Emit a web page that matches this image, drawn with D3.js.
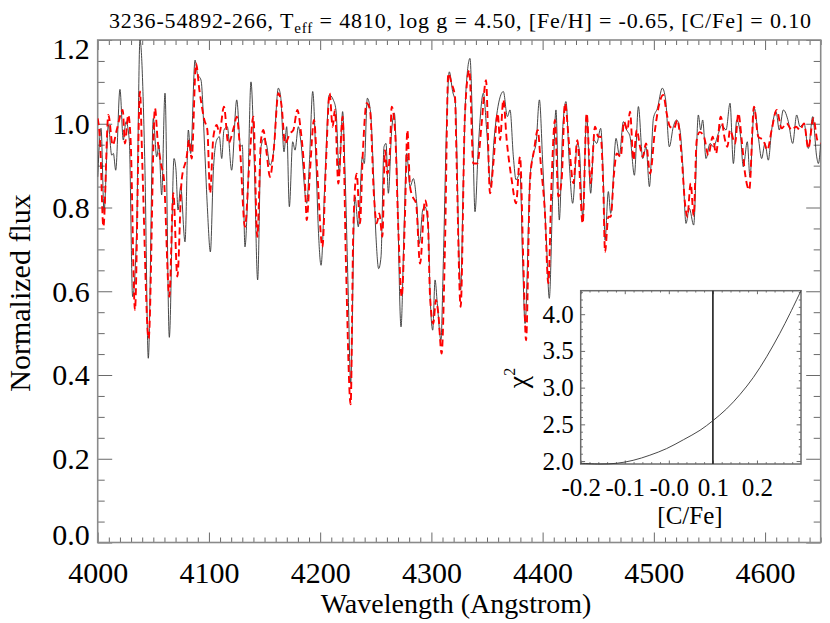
<!DOCTYPE html>
<html><head><meta charset="utf-8"><script src="https://cdn.jsdelivr.net/npm/d3@7"></script></head>
<body style="margin:0">
<svg id="chart" width="830" height="623"></svg>
<script>
// observed spectrum (black)
const obsWave = [4000, 4003.0, 4005.7, 4009.6, 4012.6, 4014.1, 4016.2, 4020.0, 4023.0, 4025.4, 4028.4, 4031.4, 4035.0, 4038.0, 4042.5, 4045.5, 4050.0, 4053.0, 4055.1, 4057.5, 4060.5, 4064.4, 4068.6, 4070.4, 4072.2, 4074.6, 4078.5, 4081.5, 4083.6, 4087.5, 4089.6, 4092.9, 4096.5, 4098.6, 4101.3, 4104.0, 4107.0, 4109.4, 4111.5, 4113.5, 4116.5, 4120.4, 4125.0, 4128.5, 4130.0, 4132.4, 4134.8, 4137.8, 4140.8, 4143.8, 4146.8, 4149.8, 4151.9, 4154.9, 4157.9, 4162.4, 4164.5, 4167.5, 4169.9, 4172.3, 4175.3, 4177.4, 4180.4, 4182.5, 4187.9, 4190.3, 4193.3, 4196.3, 4198.4, 4200.8, 4204.3, 4208.2, 4211.8, 4214.2, 4217.2, 4220.2, 4222.3, 4225.3, 4227.4, 4231.3, 4234.3, 4237.9, 4239.7, 4242.4, 4245.4, 4247.8, 4250.2, 4252.6, 4254.7, 4257.4, 4259.2, 4261.3, 4264.3, 4266.7, 4268.8, 4272.7, 4275.4, 4277.8, 4280.8, 4283.8, 4286.8, 4289.2, 4292.2, 4294.3, 4297.3, 4298.8, 4301.2, 4303.3, 4305.3, 4308.6, 4310.7, 4313.7, 4316.1, 4319.1, 4321.5, 4325.1, 4326.3, 4328.7, 4331.1, 4334.7, 4337.1, 4339.2, 4342.2, 4346.7, 4349.7, 4353.3, 4356.3, 4361.1, 4364.7, 4368.3, 4370.7, 4373.7, 4376.1, 4379.7, 4382.1, 4384.2, 4388.7, 4391.7, 4394.1, 4397.1, 4400.1, 4403.6, 4406.0, 4409.0, 4412.0, 4415.0, 4418.0, 4421.0, 4424.0, 4427.0, 4431.2, 4433.0, 4436.0, 4439.6, 4443.2, 4446.2, 4448.6, 4452.2, 4454.6, 4456.1, 4459.1, 4461.2, 4466.0, 4469.0, 4472.6, 4475.6, 4478.6, 4482.5, 4486.1, 4490.0, 4493.0, 4496.0, 4499.6, 4503.2, 4507.6, 4510.6, 4513.9, 4517.5, 4520.5, 4523.5, 4525.9, 4528.9, 4531.9, 4535.8, 4540.0, 4542.1, 4543.9, 4546.9, 4550.5, 4553.5, 4558.0, 4561.0, 4564.9, 4568.5, 4571.5, 4574.5, 4578.0, 4580.4, 4584.0, 4586.4, 4590.3, 4593.9, 4596.9, 4599.9, 4602.9, 4605.9, 4609.8, 4612.8, 4616.4, 4620.9, 4624.8, 4628.4, 4631.4, 4635.0, 4638.9, 4642.8, 4646.4, 4647.9, 4650.0];
const obsFlux = [0.873, 0.989, 0.790, 0.997, 0.925, 0.929, 0.889, 1.082, 0.961, 1.005, 0.961, 0.587, 0.746, 1.20, 0.889, 0.44, 1.013, 0.921, 0.949, 0.830, 1.073, 0.49, 0.917, 0.889, 0.794, 0.850, 0.718, 0.985, 0.929, 1.152, 1.120, 1.104, 0.921, 0.80, 0.694, 0.889, 0.961, 0.969, 0.917, 0.985, 0.993, 0.889, 1.057, 0.945, 0.949, 0.706, 0.826, 1.100, 0.905, 0.627, 0.945, 0.965, 0.949, 0.901, 0.929, 1.085, 1.065, 0.933, 0.993, 0.802, 0.957, 0.937, 0.993, 0.961, 0.810, 0.905, 1.077, 0.905, 0.746, 0.662, 0.866, 1.069, 1.057, 1.033, 0.881, 1.029, 0.889, 0.587, 0.38, 0.826, 0.754, 0.921, 0.905, 1.061, 1.025, 0.889, 0.730, 0.654, 0.682, 0.945, 0.953, 0.834, 0.985, 1.025, 0.905, 0.515, 0.746, 0.929, 0.850, 0.869, 0.810, 0.714, 0.794, 0.802, 0.746, 0.595, 0.507, 0.627, 0.571, 0.483, 0.666, 1.001, 1.124, 1.077, 1.05, 0.666, 0.603, 0.866, 1.081, 1.156, 0.985, 0.790, 0.945, 1.073, 0.985, 0.850, 0.961, 1.057, 1.077, 1.017, 1.033, 0.921, 0.866, 0.881, 0.666, 0.523, 0.873, 0.929, 0.953, 1.057, 0.905, 0.706, 0.583, 0.826, 1.033, 0.770, 0.985, 1.053, 0.905, 0.810, 0.953, 0.937, 0.778, 1.021, 0.834, 0.961, 0.953, 0.989, 0.866, 0.722, 0.838, 0.786, 0.965, 0.925, 1.005, 0.985, 0.969, 0.877, 1.041, 0.917, 0.945, 0.850, 1.013, 1.037, 1.085, 1.057, 0.945, 0.993, 1.009, 0.985, 0.905, 0.762, 0.798, 0.758, 1.021, 0.985, 1.009, 0.917, 0.953, 0.945, 0.977, 0.997, 0.985, 1.049, 0.905, 1.009, 0.969, 0.897, 0.957, 0.873, 1.037, 0.969, 0.917, 0.953, 0.913, 0.985, 1.029, 0.985, 1.033, 1.005, 0.953, 1.021, 0.993, 1.001, 0.941, 1.017, 0.921, 0.905, 0.953];

// best-fit synthetic spectrum (red dashed)
const modelWave = [4000, 4002.1, 4005.1, 4009.6, 4013.5, 4017.1, 4022.5, 4024.5, 4027.5, 4029.6, 4033.5, 4038.0, 4040.1, 4045.8, 4051.5, 4053.9, 4056.9, 4059.6, 4064.4, 4068.0, 4071.6, 4075.5, 4080.0, 4082.1, 4084.5, 4088.4, 4091.4, 4095.9, 4098.6, 4101.0, 4104.0, 4107.0, 4109.4, 4113.5, 4117.4, 4122.5, 4125.0, 4128.0, 4132.4, 4136.3, 4139.9, 4143.5, 4146.8, 4148.9, 4151.9, 4154.9, 4158.5, 4162.4, 4165.4, 4168.4, 4172.9, 4175.9, 4179.5, 4182.5, 4186.4, 4187.9, 4190.9, 4194.5, 4197.5, 4202.0, 4205.2, 4208.5, 4211.2, 4213.3, 4216.3, 4220.2, 4223.2, 4227.4, 4229.8, 4232.8, 4235.8, 4238.2, 4241.8, 4244.8, 4248.4, 4250.8, 4253.2, 4255.9, 4258.3, 4260.4, 4262.8, 4264.3, 4267.3, 4270.3, 4273.3, 4276.3, 4278.4, 4280.8, 4283.2, 4286.2, 4289.8, 4294.3, 4296.7, 4298.8, 4301.7, 4304.1, 4306.2, 4309.2, 4312.2, 4315.2, 4318.2, 4321.2, 4322.7, 4326.3, 4330.2, 4334.1, 4337.7, 4341.3, 4345.2, 4349.1, 4352.7, 4355.7, 4359.6, 4361.7, 4364.7, 4367.7, 4372.2, 4376.1, 4379.7, 4382.7, 4385.1, 4388.7, 4392.3, 4395.6, 4398.3, 4402.1, 4405.1, 4408.1, 4411.1, 4414.1, 4417.1, 4420.1, 4424.0, 4427.6, 4431.2, 4436.0, 4439.6, 4443.2, 4447.1, 4450.1, 4452.2, 4454.6, 4456.1, 4459.1, 4461.2, 4464.2, 4466.6, 4470.2, 4473.2, 4476.2, 4478.6, 4481.6, 4484.6, 4487.6, 4490.0, 4493.0, 4496.6, 4501.0, 4505.0, 4508.5, 4511.5, 4514.5, 4518.1, 4521.1, 4525.0, 4528.0, 4530.1, 4533.1, 4535.8, 4538.5, 4541.2, 4545.1, 4549.0, 4552.9, 4555.9, 4560.1, 4564.0, 4566.1, 4568.5, 4573.0, 4576.0, 4579.0, 4582.0, 4585.8, 4590.0, 4593.9, 4598.4, 4602.0, 4605.9, 4610.4, 4614.9, 4619.4, 4623.9, 4627.8, 4631.4, 4635.0, 4638.9, 4643.4, 4647.0, 4650.0];
const modelFlux = [1.013, 0.961, 0.754, 1.021, 0.949, 0.985, 1.033, 0.953, 1.021, 0.961, 0.555, 1.077, 0.905, 0.487, 1.037, 0.961, 0.905, 0.866, 0.587, 0.834, 0.635, 0.866, 0.921, 0.961, 0.917, 1.144, 1.081, 1.009, 0.985, 0.834, 0.969, 0.997, 0.977, 1.041, 0.953, 0.993, 1.017, 0.937, 0.754, 0.905, 1.017, 0.730, 0.961, 0.985, 0.929, 0.873, 0.945, 1.073, 1.041, 0.953, 0.977, 0.985, 1.033, 0.985, 0.858, 0.770, 0.889, 1.009, 0.881, 0.706, 0.905, 1.073, 0.993, 1.033, 0.857, 1.017, 0.666, 0.33, 0.746, 0.881, 0.762, 0.921, 1.049, 1.033, 0.826, 0.762, 0.786, 0.730, 0.937, 0.881, 0.937, 1.041, 0.985, 0.746, 0.587, 0.786, 0.985, 0.850, 0.826, 0.810, 0.666, 0.818, 0.778, 0.587, 0.523, 0.579, 0.547, 0.451, 0.706, 1.120, 1.096, 1.065, 0.905, 0.563, 1.025, 1.128, 0.905, 0.905, 1.001, 1.104, 0.834, 0.905, 1.025, 0.961, 1.057, 0.961, 0.866, 0.810, 0.921, 0.666, 0.483, 0.866, 0.937, 0.985, 0.905, 0.786, 0.619, 0.866, 1.009, 0.826, 0.866, 1.049, 0.945, 0.858, 0.961, 0.762, 1.025, 0.858, 0.993, 0.969, 0.969, 0.842, 0.694, 0.778, 0.778, 0.881, 0.929, 0.921, 1.005, 0.985, 1.029, 0.913, 0.985, 0.945, 0.921, 0.953, 0.881, 0.985, 1.049, 1.069, 1.025, 0.993, 0.989, 1.009, 0.921, 0.810, 0.778, 0.858, 0.780, 0.96, 0.98, 0.969, 0.925, 0.969, 0.929, 1.017, 0.961, 0.945, 0.985, 0.953, 1.025, 0.961, 0.881, 0.842, 1.041, 0.969, 0.961, 0.937, 0.985, 1.033, 0.989, 1.001, 0.985, 0.993, 0.985, 1.001, 0.941, 1.013, 0.961, 0.953];

// chi^2 vs [C/Fe] (inset)
const chiCFe = [-0.2, -0.156, -0.118, -0.081, -0.043, -0.005, 0.033, 0.071, 0.1, 0.131, 0.162, 0.192, 0.222, 0.252, 0.275, 0.3];
const chiValues = [1.97, 1.96, 1.97, 2.01, 2.08, 2.17, 2.29, 2.42, 2.55, 2.71, 2.91, 3.14, 3.42, 3.74, 4.01, 4.32];
const bestCFe = 0.10;

const xMajor = [4000, 4100, 4200, 4300, 4400, 4500, 4600];
const yMajor = [0.0, 0.2, 0.4, 0.6, 0.8, 1.0, 1.2];
const insetXMajor = [-0.2, -0.1, 0.0, 0.1, 0.2];
const insetXLabels = ['-0.2', '-0.1', '-0.0', '0.1', '0.2'];
const insetYMajor = [2.0, 2.5, 3.0, 3.5, 4.0];

const titleParts = ['3236-54892-266, T', 'eff', ' = 4810, log g = 4.50, [Fe/H] = -0.65, [C/Fe] = 0.10'];

const serifFont = 'Liberation Serif';
const frameColor = '#8a8a8a';
const tickColor = '#6a6a6a';
const obsColor = '#333333';
const modelColor = '#ff0000';

const svg = d3.select('#chart');

const x = d3.scaleLinear().domain([4000, 4650]).range([97.7, 820.7]);
const y = d3.scaleLinear().domain([0, 1.2]).range([542.5, 40]);

const xMinor = d3.range(4000, 4651, 10).filter(v => v % 100 !== 0);
const yMinor = d3.range(0, 1.21, 0.05).filter((v, i) => i % 4 !== 0);

function styleAxis(g) {
  g.attr('font-family', null);
  g.select('.domain').remove();
  g.selectAll('line').attr('stroke', tickColor).attr('stroke-width', 1);
  g.selectAll('text').attr('fill', '#000')
    .attr('font-family', serifFont)
    .style('font-family', `'${serifFont}'`);
}

function addText(parent) {
  return parent.append('text')
    .attr('font-family', serifFont)
    .style('font-family', `'${serifFont}'`)
    .attr('fill', '#000');
}

// main frame ticks
const xl = x.range(), yl = y.range();
const bottomG = svg.append('g').attr('transform', `translate(0,${yl[0]})`);
bottomG.append('g').call(d3.axisBottom(x).tickValues(xMajor).tickSize(-10).tickPadding(19).tickFormat(d3.format('d')))
  .call(styleAxis)
  .selectAll('text').attr('font-size', 30);
bottomG.append('g').call(d3.axisBottom(x).tickValues(xMinor).tickSize(-5).tickFormat('')).call(styleAxis);

const topG = svg.append('g').attr('transform', `translate(0,${yl[1]})`);
topG.append('g').call(d3.axisTop(x).tickValues(xMajor).tickSize(-10).tickFormat('')).call(styleAxis);
topG.append('g').call(d3.axisTop(x).tickValues(xMinor).tickSize(-5).tickFormat('')).call(styleAxis);

const leftG = svg.append('g').attr('transform', `translate(${xl[0]},0)`);
leftG.append('g').call(d3.axisLeft(y).tickValues(yMajor).tickSize(-14.5).tickPadding(8).tickFormat(d3.format('.1f')))
  .call(styleAxis)
  .selectAll('text').attr('font-size', 30)
  .attr('dy', d => d === 0 ? '0.05em' : (d === 1.2 ? '0.62em' : '0.33em'));
leftG.append('g').call(d3.axisLeft(y).tickValues(yMinor).tickSize(-7).tickFormat('')).call(styleAxis);

const rightG = svg.append('g').attr('transform', `translate(${xl[1]},0)`);
rightG.append('g').call(d3.axisRight(y).tickValues(yMajor).tickSize(-14.5).tickFormat('')).call(styleAxis);
rightG.append('g').call(d3.axisRight(y).tickValues(yMinor).tickSize(-7).tickFormat('')).call(styleAxis);

svg.append('rect')
  .attr('x', xl[0]).attr('y', yl[1])
  .attr('width', xl[1] - xl[0]).attr('height', yl[0] - yl[1])
  .attr('fill', 'none').attr('stroke', frameColor).attr('stroke-width', 1.6);

svg.append('clipPath').attr('id', 'plot-clip')
  .append('rect')
  .attr('x', xl[0]).attr('y', yl[1])
  .attr('width', xl[1] - xl[0]).attr('height', yl[0] - yl[1]);

const line = d3.line()
  .x(d => x(d[0]))
  .y(d => y(d[1]))
  .curve(d3.curveMonotoneX);

const plot = svg.append('g').attr('clip-path', 'url(#plot-clip)');

plot.append('path')
  .datum(d3.zip(obsWave, obsFlux))
  .attr('fill', 'none')
  .attr('stroke', obsColor)
  .attr('stroke-width', 0.9)
  .attr('d', line);

plot.append('path')
  .datum(d3.zip(modelWave, modelFlux))
  .attr('fill', 'none')
  .attr('stroke', modelColor)
  .attr('stroke-width', 1.9)
  .attr('stroke-dasharray', '7,4')
  .attr('d', line);

// titles
const title = addText(svg)
  .attr('x', 460).attr('y', 28)
  .attr('text-anchor', 'middle')
  .attr('font-size', 22)
  .attr('textLength', 702)
  .attr('lengthAdjust', 'spacing');
title.append('tspan').text(titleParts[0]);
title.append('tspan').attr('font-size', 15).attr('dy', 5).text(titleParts[1]);
title.append('tspan').attr('dy', -5).text(titleParts[2]);

addText(svg)
  .attr('x', 456).attr('y', 613)
  .attr('text-anchor', 'middle')
  .attr('font-size', 28)
  .text('Wavelength (Angstrom)');

addText(svg)
  .attr('transform', 'translate(30,293) rotate(-90)')
  .attr('text-anchor', 'middle')
  .attr('font-size', 30)
  .text('Normalized flux');

// inset chi^2 panel
const ix = d3.scaleLinear().domain([-0.2, 0.3]).range([580.7, 801]);
const iy = d3.scaleLinear().domain([1.96, 4.32]).range([464, 290.7]);
const ixl = ix.range(), iyl = iy.range();

svg.append('rect')
  .attr('x', ixl[0]).attr('y', iyl[1])
  .attr('width', ixl[1] - ixl[0]).attr('height', iyl[0] - iyl[1])
  .attr('fill', '#fff');

const ixMinor = d3.range(-0.2, 0.301, 0.02).filter(v => Math.abs(Math.round(v * 10) - v * 10) > 1e-6);
const iyMinor = d3.range(2.0, 4.31, 0.1).filter(v => Math.abs(Math.round(v * 2) - v * 2) > 1e-6);

const ib = svg.append('g').attr('transform', `translate(0,${iyl[0]})`);
ib.append('g').call(d3.axisBottom(ix).tickValues(insetXMajor).tickSize(-3.5).tickPadding(14)
    .tickFormat((d, i) => insetXLabels[i]))
  .call(styleAxis)
  .selectAll('text').attr('font-size', 25);
ib.append('g').call(d3.axisBottom(ix).tickValues(ixMinor).tickSize(-1.8).tickFormat('')).call(styleAxis);

const it = svg.append('g').attr('transform', `translate(0,${iyl[1]})`);
it.append('g').call(d3.axisTop(ix).tickValues(insetXMajor).tickSize(-3.5).tickFormat('')).call(styleAxis);
it.append('g').call(d3.axisTop(ix).tickValues(ixMinor).tickSize(-1.8).tickFormat('')).call(styleAxis);

const ileft = svg.append('g').attr('transform', `translate(${ixl[0]},0)`);
ileft.append('g').call(d3.axisLeft(iy).tickValues(insetYMajor).tickSize(-4.4).tickPadding(7).tickFormat(d3.format('.1f')))
  .call(styleAxis)
  .selectAll('text').attr('font-size', 25);
ileft.append('g').call(d3.axisLeft(iy).tickValues(iyMinor).tickSize(-2.2).tickFormat('')).call(styleAxis);

const iright = svg.append('g').attr('transform', `translate(${ixl[1]},0)`);
iright.append('g').call(d3.axisRight(iy).tickValues(insetYMajor).tickSize(-4.4).tickFormat('')).call(styleAxis);
iright.append('g').call(d3.axisRight(iy).tickValues(iyMinor).tickSize(-2.2).tickFormat('')).call(styleAxis);

svg.append('rect')
  .attr('x', ixl[0]).attr('y', iyl[1])
  .attr('width', ixl[1] - ixl[0]).attr('height', iyl[0] - iyl[1])
  .attr('fill', 'none').attr('stroke', '#6a6a6a').attr('stroke-width', 1.5);

svg.append('path')
  .datum(d3.zip(chiCFe, chiValues))
  .attr('fill', 'none')
  .attr('stroke', obsColor)
  .attr('stroke-width', 0.9)
  .attr('d', d3.line().x(d => ix(d[0])).y(d => iy(d[1])).curve(d3.curveCatmullRom.alpha(0.5)));

svg.append('line')
  .attr('x1', ix(bestCFe)).attr('x2', ix(bestCFe))
  .attr('y1', iyl[0]).attr('y2', iyl[1])
  .attr('stroke', '#333').attr('stroke-width', 1.8);

addText(svg)
  .attr('x', ix(0.048)).attr('y', 524)
  .attr('text-anchor', 'middle')
  .attr('font-size', 25)
  .text('[C/Fe]');

const chiLabel = addText(svg)
  .attr('transform', 'translate(527,378) rotate(-90)')
  .attr('text-anchor', 'middle')
  .attr('font-size', 28);
chiLabel.append('tspan').text('\u03C7');
chiLabel.append('tspan').attr('font-size', 16).attr('dy', -12).text('2');
</script>
</body>
</html>
